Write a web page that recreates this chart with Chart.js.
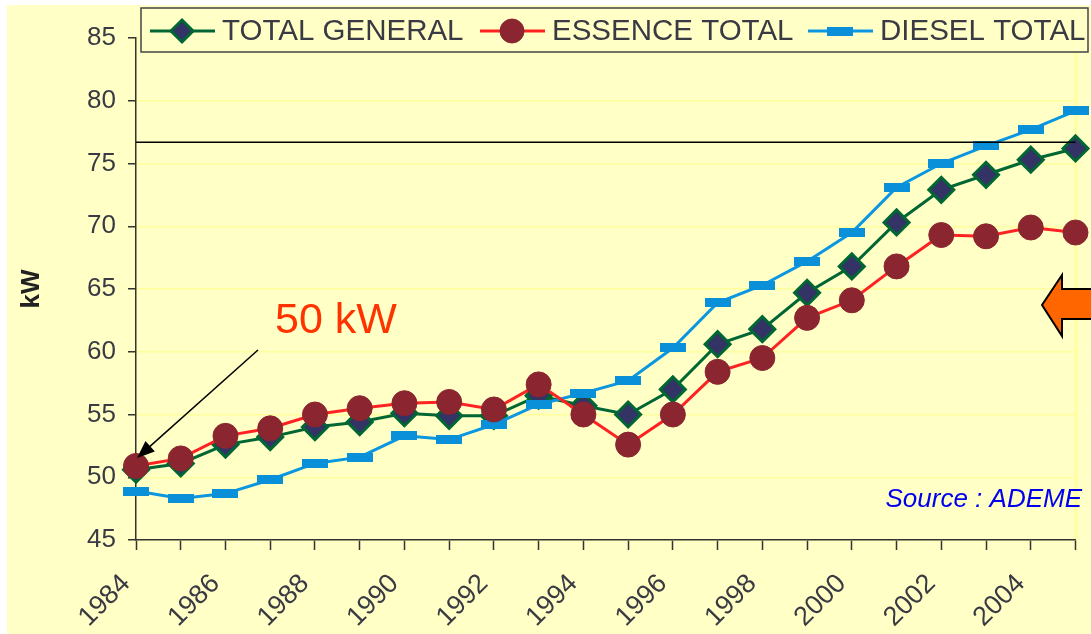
<!DOCTYPE html>
<html lang="fr">
<head>
<meta charset="utf-8">
<title>Puissance moyenne des voitures neuves</title>
<script src="https://cdn.jsdelivr.net/npm/chart.js@4/dist/chart.umd.min.js"></script>
<style>
  html, body { margin: 0; padding: 0; background: #fff; }
  #wrap { width: 1091px; height: 634px; }
</style>
</head>
<body>
<div id="wrap"><canvas id="chart" width="1091" height="634"></canvas></div>
<script>
// -------------------------------
// DONNEES
// -------------------------------
const years = ['1984', '1985', '1986', '1987', '1988', '1989', '1990', '1991', '1992', '1993', '1994',
               '1995', '1996', '1997', '1998', '1999', '2000', '2001', '2002', '2003', '2004', '2005'];
const totalGeneral = [50.6, 51.1, 52.6, 53.2, 54.0, 54.4, 55.1, 54.9, 54.9, 56.5, 55.7,
                      55.0, 57.0, 60.6, 61.8, 64.7, 66.8, 70.3, 72.9, 74.1, 75.3, 76.2];
const essenceTotal = [50.9, 51.5, 53.3, 53.9, 55.0, 55.5, 55.9, 56.0, 55.4, 57.4, 55.0,
                      52.6, 55.0, 58.4, 59.5, 62.7, 64.1, 66.8, 69.3, 69.2, 69.9, 69.5];
const dieselTotal = [48.9, 48.3, 48.7, 49.8, 51.1, 51.6, 53.3, 53.0, 54.2, 55.8, 56.7,
                     57.7, 60.3, 63.9, 65.3, 67.2, 69.5, 73.1, 75.0, 76.4, 77.7, 79.2];
const yTicks = [45, 50, 55, 60, 65, 70, 75, 80, 85];
const refLine = 76.7; // trait horizontal de reference

// -------------------------------
// STYLES
// -------------------------------
const BG = '#ffffc6';
const TEXT = '#3a3a44';
const FONT = '"Liberation Sans", Arial, sans-serif';

// marqueur rectangulaire pour la serie diesel
const dieselMark = document.createElement('canvas');
dieselMark.width = 26;
dieselMark.height = 9;
const dm = dieselMark.getContext('2d');
dm.fillStyle = '#0a90d8';
dm.fillRect(0, 0, 26, 9);

// fond jaune avec la bande blanche en haut et a gauche
const background = {
    id: 'background',
    beforeDraw(chart) {
        const ctx = chart.ctx;
        ctx.save();
        ctx.fillStyle = '#fff';
        ctx.fillRect(0, 0, chart.width, chart.height);
        ctx.fillStyle = BG;
        ctx.fillRect(7, 5, chart.width - 7, chart.height - 5);
        // liseré clair sur le bord droit du graphique
        ctx.fillStyle = '#ffff9e';
        ctx.fillRect(chart.chartArea.right - 1, chart.chartArea.top, 3, chart.chartArea.bottom - chart.chartArea.top);
        ctx.restore();
    }
};

// trait de reference, annotations et legende
const extras = {
    id: 'extras',
    afterDatasetsDraw(chart) {
        const ctx = chart.ctx;
        const area = chart.chartArea;
        const y = chart.scales.y.getPixelForValue(refLine);
        ctx.save();
        ctx.strokeStyle = '#000';
        ctx.lineWidth = 1.5;
        ctx.beginPath();
        ctx.moveTo(area.left, y);
        ctx.lineTo(area.right, y);
        ctx.stroke();
        ctx.restore();
    },
    afterDraw(chart) {
        const ctx = chart.ctx;
        ctx.save();

        // fleche "50 kW"
        ctx.fillStyle = '#ff3300';
        ctx.font = '43px ' + FONT;
        ctx.textBaseline = 'alphabetic';
        ctx.fillText('50 kW', 275, 333);

        const x0 = 258, y0 = 350, x1 = 137, y1 = 458;
        const ang = Math.atan2(y1 - y0, x1 - x0);
        ctx.strokeStyle = '#000';
        ctx.fillStyle = '#000';
        ctx.lineWidth = 1.5;
        ctx.beginPath();
        ctx.moveTo(x0, y0);
        ctx.lineTo(x1 - 14 * Math.cos(ang), y1 - 14 * Math.sin(ang));
        ctx.stroke();
        ctx.beginPath();
        ctx.moveTo(x1, y1);
        ctx.lineTo(x1 - 19 * Math.cos(ang - 0.38), y1 - 19 * Math.sin(ang - 0.38));
        ctx.lineTo(x1 - 19 * Math.cos(ang + 0.38), y1 - 19 * Math.sin(ang + 0.38));
        ctx.closePath();
        ctx.fill();

        // source
        ctx.fillStyle = '#0000ee';
        ctx.font = 'italic 26px ' + FONT;
        ctx.textAlign = 'right';
        ctx.fillText('Source : ADEME', 1082, 507);
        ctx.textAlign = 'left';

        // grosse fleche orange a droite
        ctx.fillStyle = '#ff6600';
        ctx.strokeStyle = '#000';
        ctx.lineWidth = 2;
        ctx.beginPath();
        ctx.moveTo(1042, 305);
        ctx.lineTo(1062, 275);
        ctx.lineTo(1062, 289);
        ctx.lineTo(1095, 289);
        ctx.lineTo(1095, 319);
        ctx.lineTo(1062, 319);
        ctx.lineTo(1062, 336);
        ctx.closePath();
        ctx.fill();
        ctx.stroke();

        // legende
        ctx.fillStyle = BG;
        ctx.fillRect(141, 8, 947, 44);
        ctx.strokeStyle = '#444';
        ctx.lineWidth = 1.5;
        ctx.strokeRect(141, 8, 947, 44);
        const items = [[0, 150], [1, 480], [2, 808]];
        ctx.font = '29.5px ' + FONT;
        ctx.textBaseline = 'middle';
        items.forEach(([i, x]) => {
            const ds = chart.data.datasets[i];
            const cx = x + 32, cy = 31;
            ctx.strokeStyle = ds.borderColor;
            ctx.lineWidth = ds.borderWidth;
            ctx.beginPath();
            ctx.moveTo(x, cy);
            ctx.lineTo(x + 65, cy);
            ctx.stroke();
            ctx.fillStyle = ds.pointBackgroundColor;
            ctx.strokeStyle = ds.pointBorderColor;
            ctx.lineWidth = ds.pointBorderWidth;
            if (ds.pointStyle === dieselMark) {
                ctx.drawImage(dieselMark, cx - 13, cy - 4.5);
            } else {
                const r = ds.legendRadius;
                ctx.beginPath();
                if (ds.pointStyle === 'circle') {
                    ctx.arc(cx, cy, r, 0, Math.PI * 2);
                } else {
                    ctx.moveTo(cx, cy - r);
                    ctx.lineTo(cx + r, cy);
                    ctx.lineTo(cx, cy + r);
                    ctx.lineTo(cx - r, cy);
                    ctx.closePath();
                }
                ctx.fill();
                ctx.stroke();
            }
            ctx.fillStyle = TEXT;
            ctx.fillText(ds.label, x + 72, cy + 1);
        });
        ctx.restore();
    }
};

// -------------------------------
// GRAPHIQUE
// -------------------------------
const ctx = document.getElementById('chart').getContext('2d');

new Chart(ctx, {
    type: 'line',
    data: {
        labels: years,
        datasets: [
            {
                label: 'TOTAL GENERAL',
                data: totalGeneral,
                borderColor: '#006633',
                borderWidth: 3,
                pointStyle: 'rectRot',
                pointRadius: 12.5,
                pointBackgroundColor: '#333366',
                pointBorderColor: '#006633',
                pointBorderWidth: 3,
                legendRadius: 11,
                order: 2
            },
            {
                label: 'ESSENCE TOTAL',
                data: essenceTotal,
                borderColor: '#ff2222',
                borderWidth: 3,
                pointStyle: 'circle',
                pointRadius: 12.5,
                pointBackgroundColor: '#8b2530',
                pointBorderColor: '#8b2530',
                pointBorderWidth: 1,
                legendRadius: 12,
                order: 0
            },
            {
                label: 'DIESEL TOTAL',
                data: dieselTotal,
                borderColor: '#0a96e0',
                borderWidth: 3,
                pointStyle: dieselMark,
                pointRadius: 10,
                pointBackgroundColor: '#0a90d8',
                pointBorderColor: '#0a90d8',
                pointBorderWidth: 0,
                legendRadius: 10,
                order: 1
            }
        ]
    },
    options: {
        responsive: false,
        animation: false,
        clip: false,
        layout: { padding: { top: 38, right: 13, left: 0, bottom: 0 } },
        plugins: {
            legend: { display: false },
            tooltip: { enabled: false }
        },
        elements: { line: { tension: 0 } },
        scales: {
            x: {
                type: 'category',
                offset: false,
                afterFit(scale) {
                    scale.height = 94;
                    scale.paddingLeft = 0;
                    scale.paddingRight = 0;
                },
                border: { color: '#333', width: 1.5 },
                grid: {
                    drawOnChartArea: false,
                    tickLength: 10,
                    tickColor: '#333',
                    tickWidth: 1.5
                },
                ticks: {
                    autoSkip: false,
                    maxRotation: 45,
                    minRotation: 45,
                    padding: 18,
                    labelOffset: -10,
                    color: TEXT,
                    font: { family: FONT, size: 27 },
                    callback(value) {
                        const y = Number(this.getLabelForValue(value));
                        return y % 2 === 0 ? String(y) : '';
                    }
                }
            },
            y: {
                min: 45,
                max: 85,
                afterFit(scale) {
                    scale.width = 136;
                    scale.paddingTop = 0;
                    scale.paddingBottom = 0;
                },
                afterBuildTicks(scale) { scale.ticks = yTicks.map(v => ({ value: v })); },
                border: { color: '#333', width: 1.5 },
                grid: {
                    color: '#ffff9c',
                    lineWidth: 1.5,
                    tickLength: 8,
                    tickColor: '#333',
                    tickWidth: 1.5
                },
                title: {
                    display: true,
                    text: 'kW',
                    color: '#222',
                    font: { family: FONT, size: 26, weight: 'bold' },
                    padding: { top: 16, bottom: 0 }
                },
                ticks: {
                    padding: 12,
                    color: TEXT,
                    font: { family: FONT, size: 26 }
                }
            }
        }
    },
    plugins: [background, extras]
});
</script>
</body>
</html>
